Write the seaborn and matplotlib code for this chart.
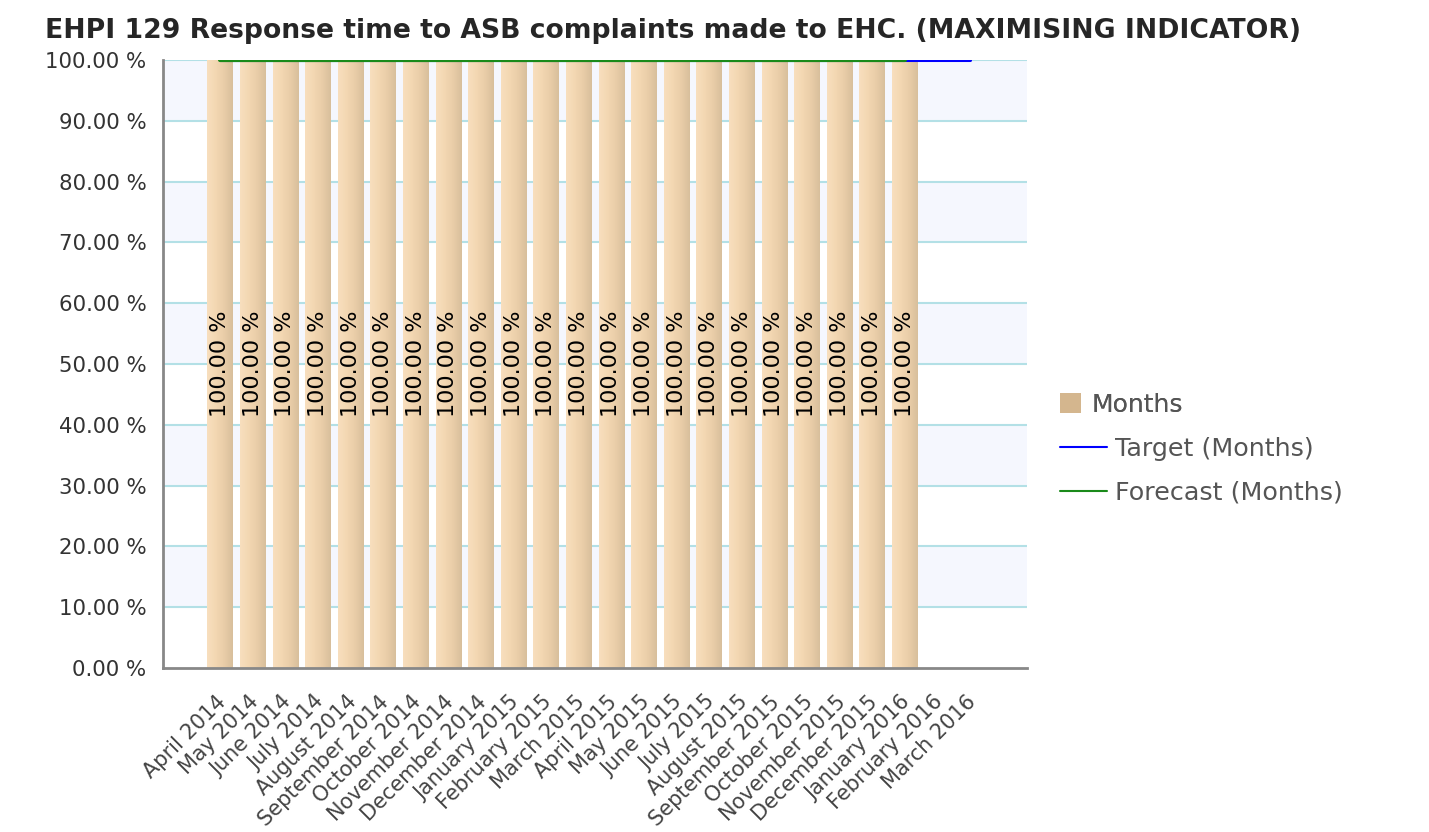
import numpy as np
import pandas as pd
import matplotlib
matplotlib.use("Agg")
import matplotlib.pyplot as plt
import seaborn as sns
from matplotlib.colors import LinearSegmentedColormap
from matplotlib.patches import Patch
from matplotlib.lines import Line2D

months = ["April 2014", "May 2014", "June 2014", "July 2014", "August 2014",
          "September 2014", "October 2014", "November 2014", "December 2014",
          "January 2015", "February 2015", "March 2015", "April 2015", "May 2015",
          "June 2015", "July 2015", "August 2015", "September 2015", "October 2015",
          "November 2015", "December 2015", "January 2016", "February 2016", "March 2016"]
actual = [100, 100, 100, 100, 100, 100, 100, 100, 100, 100, 100, 100,
          100, 100, 100, 100, 100, 100, 100, 100, 100, 100, np.nan, np.nan]
target = [100, 100, 100, 100, 100, 100, 100, 100, 100, 100, 100, 100,
          100, 100, 100, 100, 100, 100, 100, 100, 100, 100, 100, 100]
forecast = [100, 100, 100, 100, 100, 100, 100, 100, 100, 100, 100,
            100, 100, 100, 100, 100, 100, 100, 100, 100, 100, 100]
yticks = [0, 10, 20, 30, 40, 50, 60, 70, 80, 90, 100]
title = "EHPI 129 Response time to ASB complaints made to EHC. (MAXIMISING INDICATOR)"

sns.set_style("white")
plt.rcParams['font.family'] = ['DejaVu Sans']

fig = plt.figure(figsize=(14.29, 8.32), dpi=100)
ax = fig.add_axes([0.1141, 0.1971, 0.6046, 0.7308])

df = pd.DataFrame({"month": months, "value": actual})
sns.barplot(data=df, x="month", y="value", order=months, color="#f3d6b0",
            width=0.78, ax=ax, zorder=2, saturation=1)
bars = [p for p in ax.patches]

# alternating bands and grid
for i, lo in enumerate(range(0, 100, 10)):
    if i % 2 == 1:
        ax.axhspan(lo, lo + 10, color="#f5f7fe", zorder=0, lw=0)
for v in yticks[1:]:
    ax.axhline(v, color="#b3e0e6", lw=1.5, zorder=1)

cmap = LinearSegmentedColormap.from_list("g", ["#f8dfbe", "#f3d7b2", "#e9cda8", "#d8bf9c"])
grad = np.linspace(0, 1, 64).reshape(1, -1)
for p in bars:
    h = p.get_height()
    if not np.isfinite(h) or h == 0:
        continue
    x0 = p.get_x(); w = p.get_width()
    im = ax.imshow(grad, extent=[x0, x0 + w, 0, h], aspect="auto", cmap=cmap,
                   zorder=2.5, interpolation="bicubic")
    im.set_clip_path(p)
    p.set_facecolor("none")
    p.set_edgecolor("none")
    ax.text(x0 + w / 2, h / 2, f"{h:.2f} %", rotation=90, ha="center", va="center",
            fontsize=16, color="black", zorder=4)

xs = np.arange(len(months))
sns.lineplot(x=xs, y=target, color="#0000ff", lw=2.2, ax=ax, zorder=5)
sns.lineplot(x=xs[:len(forecast)], y=forecast, color="#1a8a1a", lw=3, ax=ax, zorder=6)

ax.set_xlim(-1.75, 24.75)
ax.set_ylim(0, 100)
ax.set_xlabel("")
ax.set_ylabel("")
ax.set_yticks(yticks)
ax.set_yticklabels([f"{v:.2f} %" for v in yticks], fontsize=15.3, color="#333333")
ax.set_xticks(xs)
ax.set_xticklabels([""] * len(months))
for i, m in enumerate(months):
    ax.annotate(m, xy=(i, 0), xycoords=("data", "axes fraction"),
                xytext=(7, -17), textcoords="offset points",
                rotation=45, ha="right", va="top", fontsize=15, color="#444444",
                annotation_clip=False)
ax.tick_params(axis="both", direction="out", length=6, width=1.5, color="#888888")
ax.tick_params(axis="y", pad=6)
for s in ["top", "right"]:
    ax.spines[s].set_visible(False)
for s in ["left", "bottom"]:
    ax.spines[s].set_color("#888888")
    ax.spines[s].set_linewidth(2)

fig.text(0.0315, 0.963, title, fontsize=19.2, fontweight="bold", ha="left", va="center")

leg1 = fig.legend([Patch(facecolor="#d4b68e", edgecolor="none")], ["Months"],
                  loc="center left", bbox_to_anchor=(1060 / 1429, 1 - 405 / 832),
                  frameon=False, fontsize=18, labelcolor="#555555",
                  handlelength=0.85, handleheight=0.85, handletextpad=0.4, borderaxespad=0,
                  borderpad=0)
fig.add_artist(leg1)
fig.legend([Line2D([0], [0], color="#0000ff", lw=1.5), Line2D([0], [0], color="#1a8a1a", lw=1.5)],
           ["Target (Months)", "Forecast (Months)"],
           loc="center left", bbox_to_anchor=(1060 / 1429, 1 - 471 / 832),
           frameon=False, fontsize=18.3, labelcolor="#555555",
           handlelength=1.85, handletextpad=0.3, labelspacing=0.78, borderaxespad=0,
           borderpad=0)

fig.savefig("out.png", dpi=100)
